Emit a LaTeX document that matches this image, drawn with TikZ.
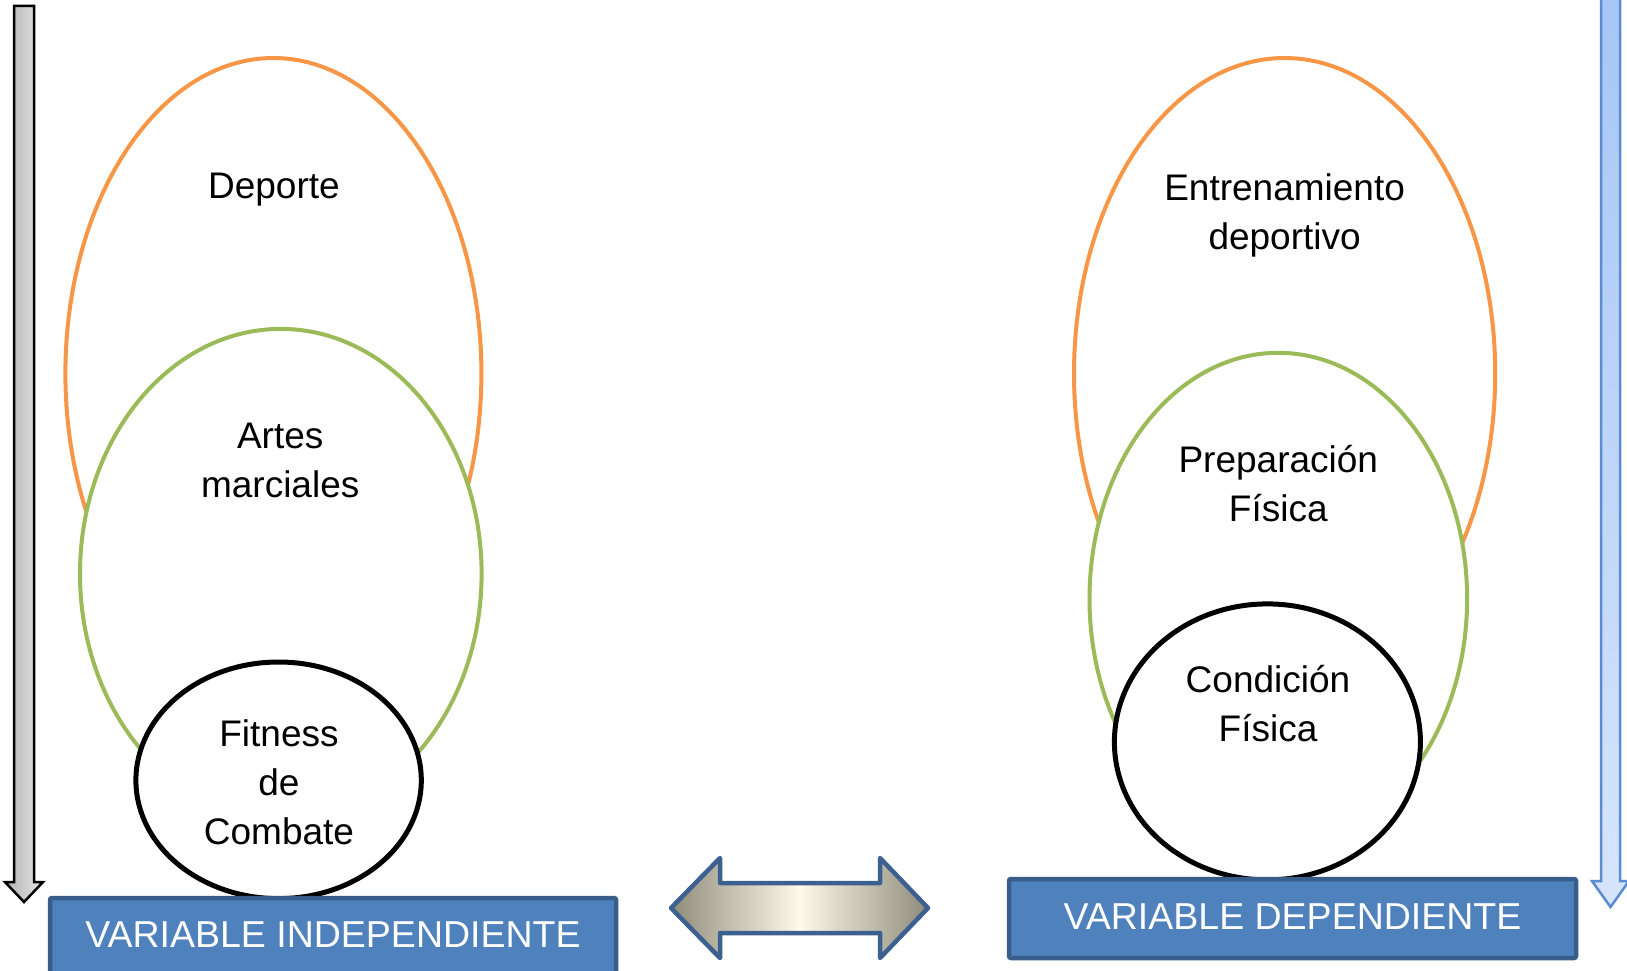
\documentclass[tikz,border=0pt]{standalone}
\usepackage{fontspec}
\setmainfont{Liberation Sans}
\usetikzlibrary{shapes.geometric}
\definecolor{orng}{HTML}{F79646}
\definecolor{grn}{HTML}{9BBB59}
\definecolor{boxfill}{HTML}{4F81BD}
\definecolor{boxline}{HTML}{385D8A}
\definecolor{darrline}{HTML}{3C6090}
\definecolor{darrdark}{HTML}{8F8C7A}
\definecolor{darrlight}{HTML}{FDFAEA}
\definecolor{blueline}{HTML}{5B8BD0}
\definecolor{bluetop}{HTML}{A6C6F6}
\definecolor{bluebot}{HTML}{D6E5FB}
\tikzset{
  oval/.style={ellipse, fill=white, inner sep=0pt, outer sep=0pt},
  ovalorange/.style={oval, draw=orng, line width=4pt},
  ovalgreen/.style={oval, draw=grn, line width=4pt},
  ovalblack/.style={oval, draw=black, line width=5pt},
  label37/.style={align=center, inner sep=0pt, font=\fontsize{37}{49}\selectfont},
  varbox/.style={draw=boxline, fill=boxfill, line width=4.5pt, rounded corners=2pt},
  vartext/.style={text=white, inner sep=0pt, anchor=base, font=\fontsize{37.5}{49}\selectfont}
}
\begin{document}
\begin{tikzpicture}[x=1pt,y=-1pt]
\useasboundingbox (0,0) rectangle (1627,971);
\clip (0,0) rectangle (1627,971);

% left grey arrow
\shade[left color=black!30, right color=black!10, draw=black, line width=2.5pt, line join=miter]
  (14,6) -- (34,6) -- (34,882) -- (43,882) -- (24,902) -- (5,882) -- (14,882) -- cycle;

% right blue arrow
\shade[top color=bluetop, bottom color=bluebot, draw=blueline, line width=2.5pt, line join=miter]
  (1601,-10) -- (1620,-10) -- (1620,881) -- (1629,881) -- (1610.5,907) -- (1592,881) -- (1601,881) -- cycle;

% left ellipses
\node[ovalorange, minimum width=416pt, minimum height=631pt] (depO) at (273.4,373.5) {};
\node[ovalgreen, minimum width=401.6pt, minimum height=489.8pt] (artO) at (280.8,573.8) {};
\node[ovalblack, minimum width=285.4pt, minimum height=236.6pt] (fitO) at (278.6,780.3) {};

% right ellipses
\node[ovalorange, minimum width=421.2pt, minimum height=631pt] (entO) at (1284.6,373.5) {};
\node[ovalgreen, minimum width=377.6pt, minimum height=491.8pt] (preO) at (1278.3,598.7) {};
\node[ovalblack, minimum width=306pt, minimum height=276pt] (conO) at (1267.4,741.9) {};

% labels
\node[label37] (depT) at (273.9,189.7) {Deporte};
\node[label37] (artT) at (280.2,460) {Artes\\marciales};
\node[label37] (fitT) at (279,782) {Fitness\\de\\Combate};
\node[label37] (entT) at (1284.6,215) {Entrenamiento\\deportivo};
\node[label37] (preT) at (1278.3,484) {Preparación\\Física};
\node[label37] (conT) at (1268,704) {Condición\\Física};

% variable boxes
\draw[varbox] (50,898) rectangle (616,990);
\node[vartext] (indT) at (333,947) {VARIABLE INDEPENDIENTE};
\draw[varbox] (1009,879) rectangle (1576,958);
\node[vartext] (dpdT) at (1292.5,929.5) {VARIABLE DEPENDIENTE};

% double arrow
\shade[left color=darrdark, right color=darrdark, middle color=darrlight, draw=darrline, line width=4.5pt, line join=round]
  (671,908) -- (720,858) -- (720,883) -- (880,883) -- (880,858) -- (928,908)
  -- (880,958) -- (880,933) -- (720,933) -- (720,958) -- cycle;
\end{tikzpicture}
\end{document}
